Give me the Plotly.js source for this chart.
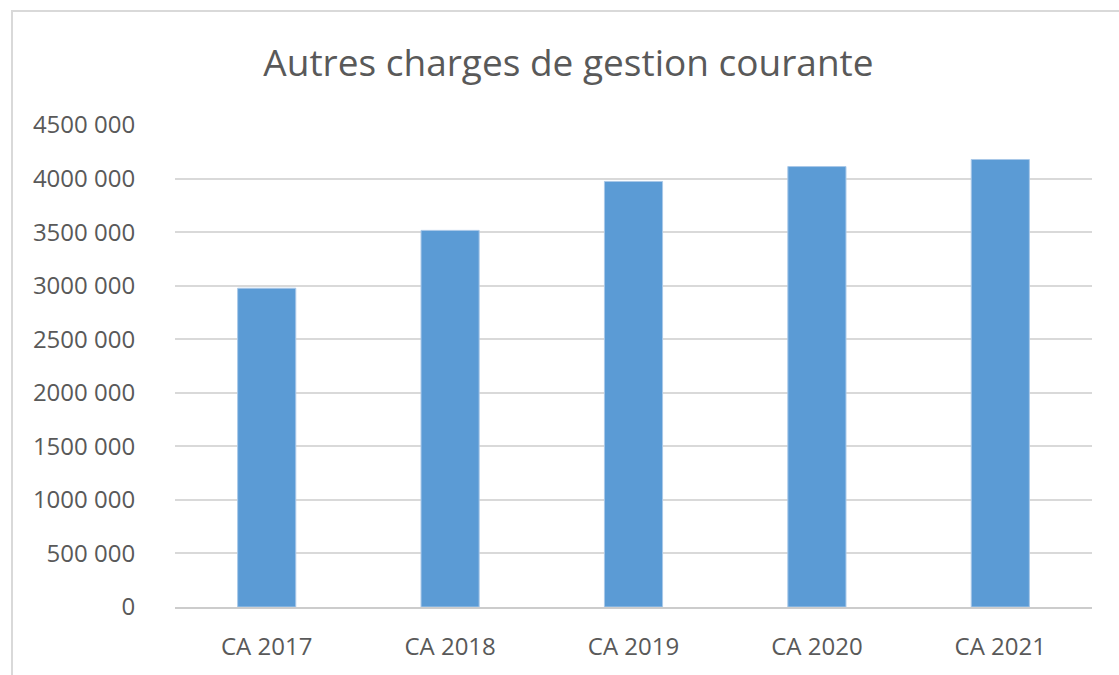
<!DOCTYPE html>
<html>
<head>
<meta charset="utf-8">
<script src="https://cdn.plot.ly/plotly-3.0.1.min.js"></script>
<style>
  html, body { margin: 0; padding: 0; background: #fff; }
  #wrap { position: relative; width: 1119px; height: 675px; }
  #chart { position: absolute; left: 0; top: 0; width: 1119px; height: 675px; }
  #frame { position: absolute; left: 11px; top: 10px; right: -5px; bottom: -5px;
           border-top: 2px solid #d9d9d9; border-left: 2px solid #d9d9d9; pointer-events: none; }
</style>
</head>
<body>
<div id="wrap">
  <div id="chart"></div>
  <div id="frame"></div>
</div>
<script>
const categories = ["CA 2017", "CA 2018", "CA 2019", "CA 2020", "CA 2021"];
const values = [2976000, 3516000, 3973000, 4112000, 4178000];
const tickValues = [0, 500000, 1000000, 1500000, 2000000, 2500000, 3000000, 3500000, 4000000, 4500000];
const tickLabels = ["0", "500 000", "1000 000", "1500 000", "2000 000", "2500 000", "3000 000", "3500 000", "4000 000", "4500 000"];
const chartTitle = "Autres charges de gestion courante";

const textColor = "#595959";
const fontFamily = "'Open Sans', 'Noto Sans', sans-serif";

Plotly.newPlot("chart", [{
  type: "bar",
  x: categories,
  y: values,
  marker: { color: "#5b9bd5", line: { color: "#a9c8e8", width: 1 } },
  hoverinfo: "x+y"
}], {
  width: 1119,
  height: 675,
  margin: { l: 175, r: 27, t: 125, b: 68 },
  paper_bgcolor: "rgba(0,0,0,0)",
  plot_bgcolor: "rgba(0,0,0,0)",
  bargap: 0.683,
  showlegend: false,
  title: {
    text: chartTitle,
    font: { family: fontFamily, size: 37, color: textColor },
    x: 0.508, xanchor: "center",
    y: 0.907, yanchor: "middle"
  },
  xaxis: {
    type: "category",
    showgrid: false,
    showline: true,
    linecolor: "#cccccc",
    linewidth: 2,
    ticks: "outside",
    ticklen: 17,
    tickcolor: "rgba(0,0,0,0)",
    tickfont: { family: fontFamily, size: 24, color: textColor },
    zeroline: false
  },
  yaxis: {
    range: [0, 4500000],
    tickvals: tickValues,
    ticktext: tickLabels,
    showgrid: true,
    gridcolor: "#d9d9d9",
    gridwidth: 1.5,
    zeroline: false,
    showline: false,
    ticks: "outside",
    ticklen: 34,
    tickcolor: "rgba(0,0,0,0)",
    tickfont: { family: fontFamily, size: 24, color: textColor }
  }
}, { displayModeBar: false });
</script>
</body>
</html>
